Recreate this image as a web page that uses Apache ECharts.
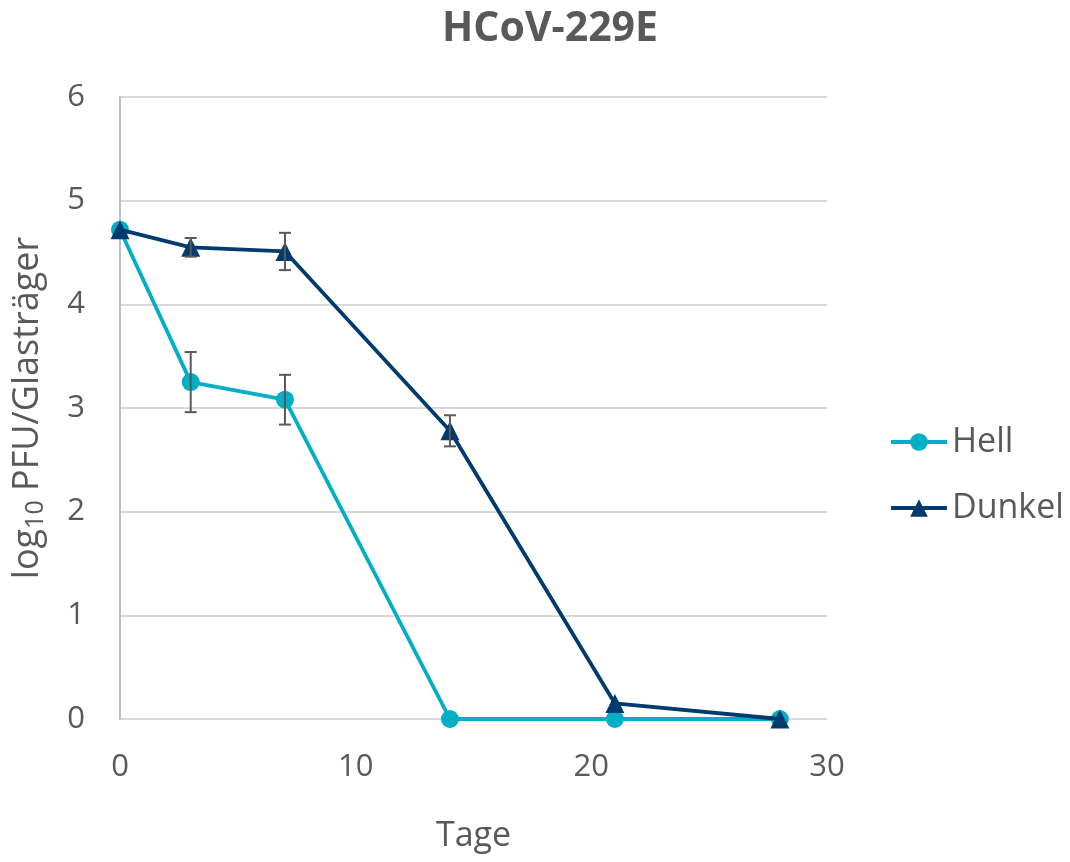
<!DOCTYPE html>
<html>
<head>
<meta charset="utf-8">
<script src="https://cdn.jsdelivr.net/npm/echarts@6/dist/echarts.min.js"></script>
<style>
  html, body { margin: 0; padding: 0; background: #fff; }
  #chart { width: 1070px; height: 862px; }
</style>
</head>
<body>
<div id="chart"></div>
<script>
// Survival of HCoV-229E on glass carriers, light vs. dark storage
const days = [0, 3, 7, 14, 21, 28];
const hell = [4.72, 3.25, 3.08, 0, 0, 0];
const hellErr = [0, 0.29, 0.24, 0, 0, 0];
const dunkel = [4.72, 4.55, 4.51, 2.78, 0.15, 0];
const dunkelErr = [0, 0.09, 0.18, 0.15, 0, 0];
const xTicks = [0, 10, 20, 30];
const yTicks = [0, 1, 2, 3, 4, 5, 6];

const textColor = '#595959';
const fontFamily = '"Open Sans", "Noto Sans", sans-serif';

function pairs(ys) { return days.map((d, i) => [d, ys[i]]); }
function errData(ys, es) {
  return days.map((d, i) => [d, ys[i] - es[i], ys[i] + es[i]]).filter((r, i) => es[i] > 0);
}
// vertical error bar with caps
function errRender(params, api) {
  const lo = api.coord([api.value(0), api.value(1)]);
  const hi = api.coord([api.value(0), api.value(2)]);
  const cap = 6;
  const style = { stroke: '#595959', lineWidth: 2 };
  return {
    type: 'group',
    children: [
      { type: 'line', shape: { x1: lo[0], y1: lo[1], x2: hi[0], y2: hi[1] }, style },
      { type: 'line', shape: { x1: lo[0] - cap, y1: lo[1], x2: lo[0] + cap, y2: lo[1] }, style },
      { type: 'line', shape: { x1: hi[0] - cap, y1: hi[1], x2: hi[0] + cap, y2: hi[1] }, style }
    ]
  };
}

const chart = echarts.init(document.getElementById('chart'));
chart.setOption({
  backgroundColor: '#fff',
  animation: false,
  textStyle: { fontFamily },
  title: {
    text: 'HCoV-229E',
    left: 545, top: 4, textAlign: 'center',
    textStyle: { color: textColor, fontSize: 41, fontWeight: 'bold', fontFamily }
  },
  legend: {
    orient: 'vertical',
    left: 884, top: 420,
    itemWidth: 56, itemHeight: 22, itemGap: 32,
    lineStyle: { width: 4 },
    textStyle: { color: textColor, fontSize: 34, fontFamily },
    data: ['Hell', 'Dunkel']
  },
  grid: { left: 120, right: 243, top: 97, bottom: 143, containLabel: false, outerBoundsMode: 'none' },
  xAxis: {
    type: 'value', min: xTicks[0], max: xTicks[xTicks.length - 1], interval: 10,
    name: 'Tage', nameLocation: 'middle', nameGap: 100,
    nameTextStyle: { color: textColor, fontSize: 34, fontFamily },
    axisLine: { show: false }, axisTick: { show: false },
    splitLine: { show: false },
    axisLabel: { color: textColor, fontSize: 31, margin: 33, fontFamily }
  },
  yAxis: {
    type: 'value', min: yTicks[0], max: yTicks[yTicks.length - 1], interval: 1,
    name: '{a|log}{s|10}{a| PFU/Glasträger}',
    nameLocation: 'middle', nameGap: 72, nameRotate: 90,
    nameTextStyle: {
      color: textColor, fontFamily,
      rich: {
        a: { fontSize: 36, color: textColor, fontFamily },
        s: { fontSize: 25, color: textColor, fontFamily, verticalAlign: 'bottom', padding: [16, 0, 0, 0] }
      }
    },
    axisLine: { show: true, lineStyle: { color: '#bfbfbf', width: 2 } },
    axisTick: { show: false },
    splitLine: { show: true, lineStyle: { color: '#d9d9d9', width: 2 } },
    axisLabel: { color: textColor, fontSize: 31, margin: 35, fontFamily }
  },
  series: [
    {
      name: 'Hell', type: 'line', data: pairs(hell),
      symbol: 'circle', symbolSize: 18,
      lineStyle: { color: '#00afc6', width: 3.8 },
      itemStyle: { color: '#00afc6' },
      z: 3
    },
    {
      name: 'Dunkel', type: 'line', data: pairs(dunkel),
      symbol: 'triangle', symbolSize: 19,
      lineStyle: { color: '#003a6e', width: 3.8 },
      itemStyle: { color: '#003a6e' },
      z: 4
    },
    {
      type: 'custom', name: 'Hell err', data: errData(hell, hellErr),
      renderItem: errRender, z: 5, silent: true
    },
    {
      type: 'custom', name: 'Dunkel err', data: errData(dunkel, dunkelErr),
      renderItem: errRender, z: 5, silent: true
    }
  ]
});
</script>
</body>
</html>
